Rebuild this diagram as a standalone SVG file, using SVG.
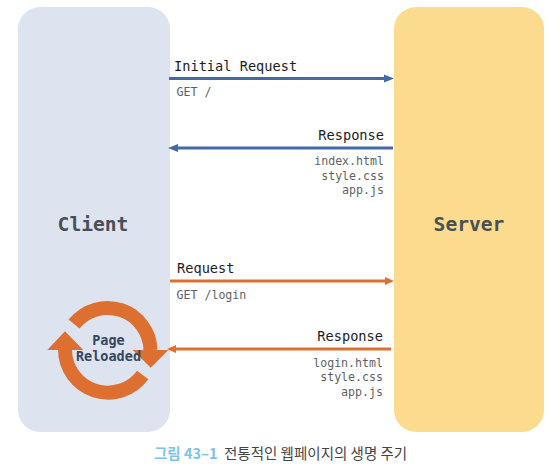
<svg xmlns="http://www.w3.org/2000/svg" width="560" height="474" viewBox="0 0 560 474">
<style>
text{font-family:"DejaVu Sans Mono","Liberation Mono",monospace}
.t{font-size:13.65px;fill:#1c1c1e}
.s{font-size:11.6px;fill:#5f5f5f}
.e{text-anchor:end}
.n{font-size:19.6px;font-weight:bold;fill:#4a4f55;text-anchor:middle}
.blue{stroke:#4469a8;fill:none;stroke-width:3}
.or{stroke:#dd7030;fill:none;stroke-width:3}
.c{font-family:"Noto Sans CJK KR",sans-serif;font-size:14.5px}
</style>
<rect width="560" height="474" fill="#fff"/>
<g id="client"><rect x="18" y="7" width="152" height="425" rx="22" fill="#dde4f0"/><text class="n" x="93" y="231">Client</text></g>
<g id="server"><rect x="394" y="7" width="150" height="425" rx="22" fill="#fbdc8e"/><text class="n" x="469" y="231">Server</text></g>
<g id="reload">
<path d="M74 324A43 43 0 0 1 150.500 350" fill="none" stroke="#dd7030" stroke-width="14"/>
<path d="M65 350A43 43 0 0 0 142.700 375" fill="none" stroke="#dd7030" stroke-width="14"/>
<polygon points="132.700,350 168.300,350 150.700,367.700" fill="#dd7030"/>
<polygon points="47.300,350 65,331.300 83.300,350" fill="#dd7030"/>
<text x="108.500" y="345" text-anchor="middle" font-size="13.500" font-weight="bold" fill="#36465e">Page</text>
<text x="108.500" y="361" text-anchor="middle" font-size="13.500" font-weight="bold" fill="#36465e">Reloaded</text>
</g>
<g id="connectors">
<path class="blue" d="M169 78.500H385"/><polygon points="384,74.500 394,78.500 384,82.500" fill="#4469a8"/>
<path class="blue" d="M393 148H177"/><polygon points="178,144 168,148 178,152" fill="#4469a8"/>
<path class="or" d="M170 281H386"/><polygon points="385,277 394,281 385,285" fill="#dd7030"/>
<path class="or" d="M391 349H175"/><polygon points="176,345 167,349 176,353" fill="#dd7030"/>
</g>
<g id="labels">
<text class="t" x="174" y="71">Initial Request</text>
<text class="s" x="176.500" y="96">GET /</text>
<text class="t e" x="384" y="140">Response</text>
<text class="s e" x="384" y="165">index.html</text>
<text class="s e" x="384" y="180">style.css</text>
<text class="s e" x="384" y="194">app.js</text>
<text class="t" x="177" y="273">Request</text>
<text class="s" x="176.500" y="299">GET /login</text>
<text class="t e" x="383" y="341">Response</text>
<text class="s e" x="383" y="367">login.html</text>
<text class="s e" x="383" y="381">style.css</text>
<text class="s e" x="383" y="396">app.js</text>
</g>
<text class="c" x="154" y="459" font-weight="bold" fill="#7cc4e6">그림 43–1</text>
<text class="c" x="224" y="459" fill="#444">전통적인 웹페이지의 생명 주기</text>
</svg>
